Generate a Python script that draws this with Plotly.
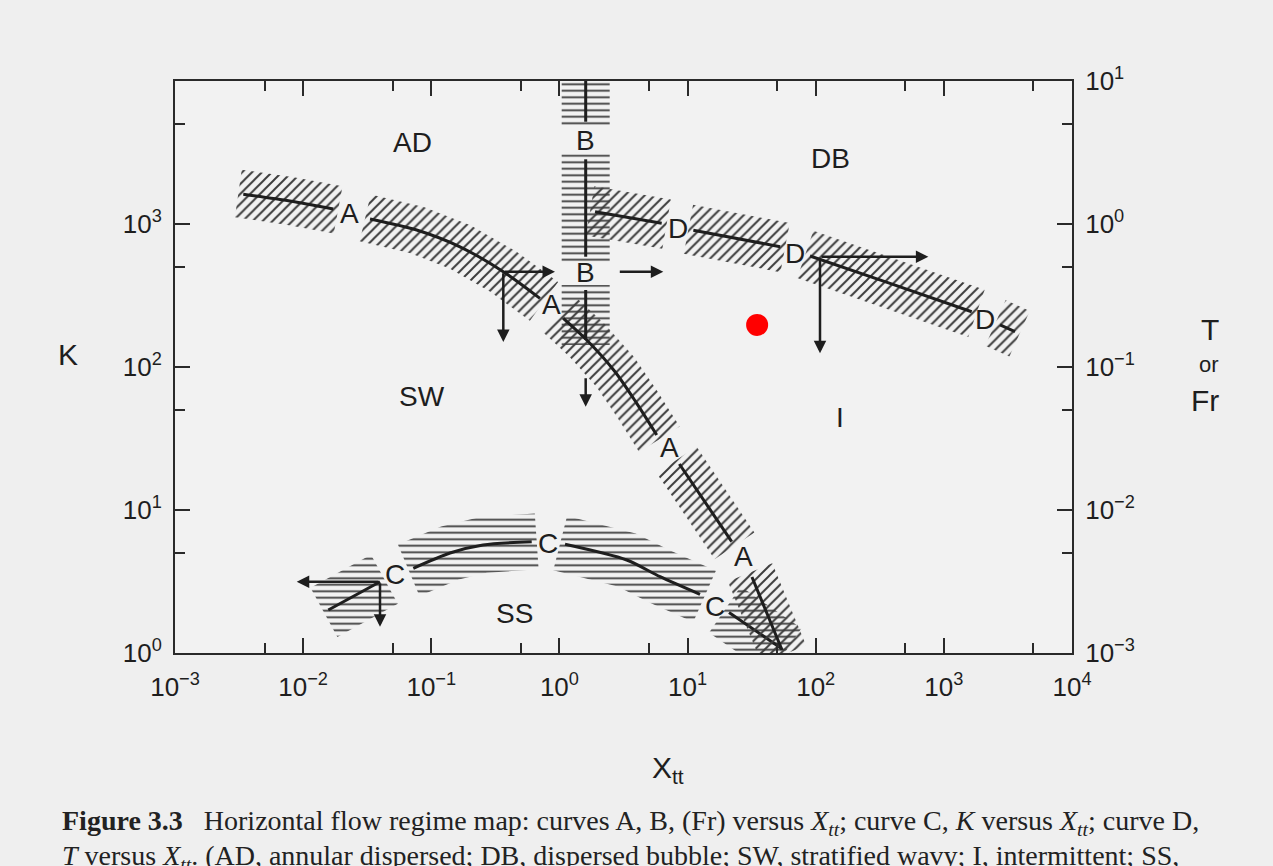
import numpy as np
import plotly.graph_objects as go

# ---------------- data ----------------
# Curve A : Fr (right axis) versus Xtt, split in segments at the "A" labels
A_x = [[0.00341, 0.00788, 0.01717],
       [0.03327, 0.0769, 0.1675, 0.3648, 0.7047],
       [1.072, 1.633, 2.716, 4.011, 5.745],
       [8.63, 22.1],
       [31.8, 54.6]]
A_y = [[1.614, 1.449, 1.273],
       [1.084, 0.908, 0.693, 0.4639, 0.302],
       [0.2191, 0.1545, 0.0927, 0.0557, 0.03346],
       [0.02098, 0.006002],
       [0.0034, 0.00105]]
A_lab_x = [0.0228, 0.871, 7.29, 27.2]
A_lab_y = [1.175, 0.2715, 0.02727, 0.004764]

# Curve B : Fr (right axis) at constant Xtt
B_xtt = 1.603
B_y = [[10.0, 5.19], [2.834, 0.5905], [0.3455, 0.1545]]
B_lab_y = [3.865, 0.4613]

# Curve C : K (left axis) versus Xtt
C_x = [[0.01572, 0.0398],
       [0.0724, 0.140, 0.2533, 0.6077],
       [1.106, 3.35, 6.1, 12.5],
       [21.06, 54.1]]
C_y = [[2.0, 3.152],
       [3.911, 5.004, 5.69, 6.003],
       [5.754, 4.47, 3.418, 2.573],
       [1.919, 1.075]]
C_lab_x = [0.0521, 0.819, 16.4]
C_lab_y = [3.512, 5.85, 2.108]

# Curve D : T (right axis) versus Xtt
D_x = [[1.896, 6.28], [11.09, 52.8], [90.3, 380.0, 1650.0], [2744.0, 3591.0]]
D_y = [[1.219, 1.012], [0.905, 0.694], [0.5973, 0.3848, 0.2436], [0.1967, 0.1766]]
D_lab_x = [8.47, 68.9, 2095.0]
D_lab_y = [0.933, 0.6237, 0.2132]

# arrows (tail x, tail y, head x, head y)
arrows_right_axis = [(0.3648, 0.4639, 0.9236, 0.4639),
                     (0.3648, 0.4639, 0.3648, 0.1496),
                     (2.880, 0.4639, 6.466, 0.4639),
                     (1.603, 0.0855, 1.603, 0.0528),
                     (108.0, 0.59, 757.0, 0.59),
                     (108.0, 0.59, 108.0, 0.1247)]
arrows_left_axis = [(0.0398, 3.152, 0.00891, 3.152),
                    (0.0398, 3.152, 0.0398, 1.527)]

# region labels (Xtt, K)
regions = ["AD", "DB", "SW", "I", "SS"]
region_x = [0.0708, 129.3, 0.0846, 154.7, 0.450]
region_k = [3745.0, 2894.0, 61.7, 44.0, 1.874]

# highlighted point (Xtt, K)
dot_x = [34.9]
dot_k = [197.0]

x_ticks = [1e-3, 1e-2, 1e-1, 1e0, 1e1, 1e2, 1e3, 1e4]
x_ticktext = ["10<sup>−3</sup>", "10<sup>−2</sup>", "10<sup>−1</sup>", "10<sup>0</sup>",
              "10<sup>1</sup>", "10<sup>2</sup>", "10<sup>3</sup>", "10<sup>4</sup>"]
k_ticks = [1, 10, 100, 1000]
k_ticktext = ["10<sup>0</sup>", "10<sup>1</sup>", "10<sup>2</sup>", "10<sup>3</sup>"]
t_ticks = [1e-3, 1e-2, 1e-1, 1e0, 1e1]
t_ticktext = ["10<sup>−3</sup>", "10<sup>−2</sup>", "10<sup>−1</sup>", "10<sup>0</sup>", "10<sup>1</sup>"]

# ---------------- helpers ----------------
SX, SY = 128.14, 143.0   # displayed pixels per decade


def band(xs, ys, half, ext=5.0):
    lx = np.log10(np.asarray(xs, float)) * SX
    ly = np.log10(np.asarray(ys, float)) * SY
    tx = np.gradient(lx)
    ty = np.gradient(ly)
    n = np.hypot(tx, ty)
    tx, ty = tx / n, ty / n
    lx = lx.copy(); ly = ly.copy()
    lx[0] -= tx[0] * ext; ly[0] -= ty[0] * ext
    lx[-1] += tx[-1] * ext; ly[-1] += ty[-1] * ext
    nx, ny = -ty, tx
    ux, uy = lx + nx * half, ly + ny * half
    dx, dy = lx - nx * half, ly - ny * half
    px = np.concatenate([ux, dx[::-1], ux[:1]])
    py = np.concatenate([uy, dy[::-1], uy[:1]])
    return 10 ** (px / SX), 10 ** (py / SY)


INK = "#1e1e1e"
HATCH = "#3c3c3c"
FONT = "Liberation Sans, Arial, sans-serif"

fig = go.Figure()


def add_band(xs, ys, half, shape, yaxis):
    bx, by = band(xs, ys, half)
    fig.add_trace(go.Scatter(
        x=bx, y=by, yaxis=yaxis, mode="lines", line=dict(width=0),
        fill="toself", fillcolor="rgba(0,0,0,0)",
        fillpattern=dict(shape=shape, size=7 if shape == "/" else 6.5, solidity=0.28,
                         fgcolor=HATCH, bgcolor="rgba(0,0,0,0)", fillmode="replace"),
        hoverinfo="skip", showlegend=False))


def add_line(xs, ys, yaxis):
    fig.add_trace(go.Scatter(x=xs, y=ys, yaxis=yaxis, mode="lines",
                             line=dict(color=INK, width=3, shape="spline", smoothing=0.8),
                             hoverinfo="skip", showlegend=False))


# hatched bands
for xs, ys in zip(A_x, A_y):
    add_band(xs, ys, 24, "/", "y2")
for ys in B_y:
    add_band([B_xtt, B_xtt], ys, 24, "-", "y2")
for xs, ys in zip(C_x, C_y):
    add_band(xs, ys, 28, "-", "y")
for xs, ys in zip(D_x, D_y):
    add_band(xs, ys, 25, "/", "y2")

# curves
for xs, ys in zip(A_x, A_y):
    add_line(xs, ys, "y2")
for ys in B_y:
    add_line([B_xtt, B_xtt], ys, "y2")
for xs, ys in zip(C_x, C_y):
    add_line(xs, ys, "y")
for xs, ys in zip(D_x, D_y):
    add_line(xs, ys, "y2")

# red dot
fig.add_trace(go.Scatter(x=dot_x, y=dot_k, yaxis="y", mode="markers",
                         marker=dict(color="#ff0000", size=22, line=dict(width=0)),
                         hoverinfo="skip", showlegend=False))

ann = []
lab_font = dict(family=FONT, size=28, color=INK)
for x, y in zip(A_lab_x, A_lab_y):
    ann.append(dict(x=np.log10(x), y=np.log10(y), xref="x", yref="y2", text="A",
                    showarrow=False, font=lab_font))
for y in B_lab_y:
    ann.append(dict(x=np.log10(B_xtt), y=np.log10(y), xref="x", yref="y2", text="B",
                    showarrow=False, font=lab_font))
for x, y in zip(C_lab_x, C_lab_y):
    ann.append(dict(x=np.log10(x), y=np.log10(y), xref="x", yref="y", text="C",
                    showarrow=False, font=lab_font))
for x, y in zip(D_lab_x, D_lab_y):
    ann.append(dict(x=np.log10(x), y=np.log10(y), xref="x", yref="y2", text="D",
                    showarrow=False, font=lab_font))
for t, x, y in zip(regions, region_x, region_k):
    ann.append(dict(x=np.log10(x), y=np.log10(y), xref="x", yref="y", text=t,
                    showarrow=False, font=lab_font))

for (x0, y0, x1, y1) in arrows_right_axis:
    ann.append(dict(x=np.log10(x1), y=np.log10(y1), ax=np.log10(x0), ay=np.log10(y0),
                    xref="x", yref="y2", axref="x", ayref="y2", text="",
                    showarrow=True, arrowhead=2, arrowsize=1.0, arrowwidth=2.5,
                    arrowcolor=INK))
for (x0, y0, x1, y1) in arrows_left_axis:
    ann.append(dict(x=np.log10(x1), y=np.log10(y1), ax=np.log10(x0), ay=np.log10(y0),
                    xref="x", yref="y", axref="x", ayref="y", text="",
                    showarrow=True, arrowhead=2, arrowsize=1.0, arrowwidth=2.5,
                    arrowcolor=INK))

# axis titles
ann.append(dict(x=-0.1327, y=0.521, xref="paper", yref="paper", text="K", showarrow=False,
                font=dict(family=FONT, size=30, color=INK)))
ann.append(dict(x=1.166, y=0.5647, xref="paper", yref="paper", text="T", showarrow=False,
                font=dict(family=FONT, size=30, color=INK)))
ann.append(dict(x=1.166, y=0.5035, xref="paper", yref="paper", text="or", showarrow=False,
                font=dict(family=FONT, size=22, color=INK)))
ann.append(dict(x=1.166, y=0.4423, xref="paper", yref="paper", text="Fr", showarrow=False,
                font=dict(family=FONT, size=30, color=INK)))
ann.append(dict(x=0.5496, y=-0.2395, xref="paper", yref="paper", text="X<sub>tt</sub>",
                showarrow=False, font=dict(family=FONT, size=30, color=INK)))

# caption
cap_font = dict(family="Liberation Serif, Times New Roman, serif", size=28, color="#222")
ann.append(dict(x=-0.1282, y=-0.2955, xref="paper", yref="paper", xanchor="left",
                yanchor="middle", showarrow=False, font=cap_font,
                text="<b>Figure 3.3</b>&nbsp;&nbsp;&nbsp;Horizontal flow regime map: curves A, B, (Fr) versus "
                     "<i>X</i><sub><i>tt</i></sub>; curve C, <i>K</i> versus <i>X</i><sub><i>tt</i></sub>; curve D,"))
ann.append(dict(x=-0.1282, y=-0.357, xref="paper", yref="paper", xanchor="left",
                yanchor="middle", showarrow=False, font=cap_font,
                text="<i>T</i> versus <i>X</i><sub><i>tt</i></sub>. (AD, annular dispersed; DB, dispersed bubble; "
                     "SW, stratified wavy; I, intermittent; SS,"))

tick_font = dict(family=FONT, size=26, color=INK)
axis_common = dict(type="log", showgrid=False, zeroline=False, showline=True,
                   linecolor="#2a2a2a", linewidth=2, ticks="inside", ticklen=15,
                   tickwidth=2, tickcolor="#2a2a2a", tickfont=tick_font,
                   tickmode="array")

fig.update_layout(
    width=1273, height=866, autosize=False,
    margin=dict(l=175, r=201, t=81, b=213),
    paper_bgcolor="#efefef", plot_bgcolor="#f2f2f2",
    showlegend=False,
    xaxis=dict(axis_common, range=[-3, 4], tickvals=x_ticks, ticktext=x_ticktext,
               mirror="ticks", ticklabelstandoff=10,
               minor=dict(tickvals=[5e-3, 5e-2, 5e-1, 5, 50, 500, 5000], ticks="inside",
                          ticklen=10, tickwidth=2, tickcolor="#2a2a2a")),
    yaxis=dict(axis_common, range=[0, 4], tickvals=k_ticks, ticktext=k_ticktext,
               ticklabelstandoff=6,
               minor=dict(tickvals=[5, 50, 500, 5000], ticks="inside",
                          ticklen=10, tickwidth=2, tickcolor="#2a2a2a")),
    yaxis2=dict(axis_common, range=[-3, 1], tickvals=t_ticks, ticktext=t_ticktext,
                overlaying="y", side="right", ticklabelstandoff=6,
                minor=dict(tickvals=[5e-3, 5e-2, 5e-1, 5], ticks="inside",
                           ticklen=10, tickwidth=2, tickcolor="#2a2a2a")),
    annotations=ann,
)

fig.write_html("out.html", config={"displayModeBar": False},
               post_script="document.body.style.margin='0px';")
